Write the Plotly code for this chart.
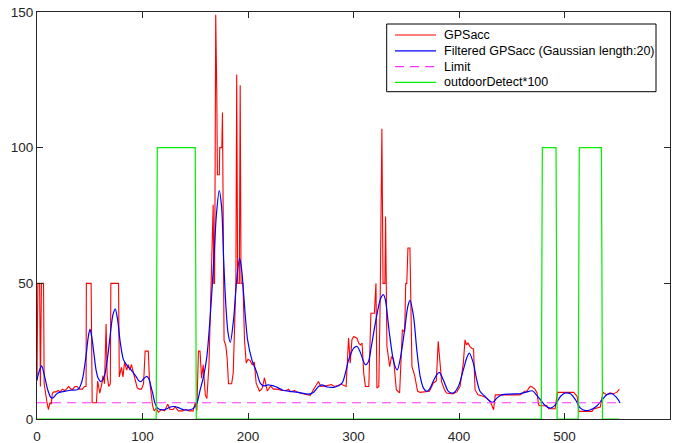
import plotly.graph_objects as go

# Raw GPS accuracy samples (vertices of the trace)
gps_x = [0, 0.8, 2.5, 3.2, 4.2, 6.2, 6.8, 8, 9.5, 10.8, 12.3, 13.5, 14.5, 16, 18, 20, 22, 24, 26, 28,
         30, 32, 34, 36, 38, 40, 43, 45, 46.5, 46.8, 51.3, 52.3, 56.3, 57.5, 59.5, 61.5, 62.5, 64, 65.5, 66.5,
         68, 69.5, 70, 77.3, 78, 80, 81.5, 83, 85, 86.5, 88, 89.5, 91, 93, 95, 97, 99, 101, 102.5, 105.5,
         106.5, 108, 109.5, 111, 113, 115, 118, 121, 124, 126, 129, 131, 134, 138, 141, 144, 148, 150, 151.5, 153,
         154.5, 156, 157.5, 159.5, 161, 163, 164.5, 166, 167, 167.6, 168.3, 168.7, 169.4, 170.4, 171, 172.8, 173.2, 175.2, 175.8, 176.4,
         177.3, 179, 180.3, 181.5, 184.5, 186, 187.5, 188.5, 189.3, 190.2, 191.8, 192.6, 193.4, 195.2, 196.7, 198.3, 200, 202, 204, 206,
         207.7, 210.8, 213, 214, 215.6, 217, 218.3, 221.4, 224, 228, 232, 236, 238.5, 240, 244, 248, 254, 259, 262, 266.8,
         269, 274, 279, 282, 288.4, 293, 295.3, 296.9, 298.5, 300.2, 303.3, 304.9, 306.5, 308.1, 309.7, 311.3, 314.5, 316.5, 319.8, 320.6,
         321.3, 322.2, 324, 325.3, 326.9, 328, 329.8, 330.4, 331.7, 334.3, 336, 338, 340.6, 343.7, 345, 346.3, 348.5, 349.5, 350.5, 351.6,
         353.5, 354.2, 355.4, 358, 360.7, 363, 366, 372, 375.6, 378.5, 380.3, 381.5, 383.5, 386, 388.2, 394, 398, 401, 404.1, 405.7,
         407, 408.5, 410.4, 412.5, 413.8, 415.2, 418, 422, 426.4, 429.6, 431, 432.8, 434.4, 458, 462.2, 464.2, 467.4, 469.4, 472, 474,
         475.3, 476, 483.4, 485, 491.1, 493.3, 508.7, 510.2, 512, 513.6, 526, 527.6, 530.8, 533.9, 536.5, 540, 543.3, 546, 549.6, 552]
gps_acc = [14, 50, 50, 12, 50, 50, 13, 9, 6, 3.5, 6, 5.5, 9.5, 10, 10, 10.5, 10, 11, 10.5, 11,
           12, 11, 11, 12, 12, 11, 11, 12, 12, 50, 50, 6, 6, 14, 9.5, 13, 16, 13, 35, 16,
           12, 13, 50, 50, 15.5, 19, 15.5, 21, 18, 20, 18, 20, 17.5, 14, 11.5, 11, 11, 13, 25, 25,
           15, 10, 5, 3, 4, 2.5, 3.5, 3, 5.5, 3.5, 3.5, 4.5, 3, 3, 3.5, 3, 3, 6, 3, 25,
           25, 15, 20, 9, 7.5, 20, 45, 65, 79, 50, 50, 79, 149, 120, 90, 90, 100, 100, 113, 80,
           29, 27, 22, 13, 13, 17, 35, 50, 127, 50, 50, 123, 50, 50, 29, 20.6, 22, 21.5, 20, 21,
           13.3, 10.3, 11, 12.2, 15.2, 12, 10.3, 12.2, 11, 11, 10.5, 10.5, 11, 10, 10.5, 9.7, 9.2, 8.7, 10.8, 13.8,
           12, 12.2, 12.7, 12, 12.8, 12, 29.8, 20.6, 29.2, 30.4, 29.8, 28, 27.3, 28, 16.9, 12, 12, 39, 39, 50,
           50, 11.4, 12, 44, 107, 50, 50, 74.6, 26.7, 19.3, 23, 22, 10.8, 9.6, 20, 32.9, 32, 50, 50, 63,
           63, 44, 19.3, 16, 10.3, 9.8, 10, 10.2, 13.2, 14, 28.6, 22, 13.8, 11, 9.6, 9.2, 10, 12, 20.6, 29.2,
           27.3, 28, 26.7, 26, 25.8, 10.8, 8.9, 8.5, 7.7, 6.5, 5, 3.4, 8.9, 8.9, 10.2, 10.2, 12, 11.8, 11, 9.6,
           5.7, 4.9, 4.9, 3.8, 3.8, 9.8, 9.8, 8.9, 8.3, 2.8, 2.8, 3.7, 4, 4.4, 9.8, 8.9, 9.6, 9.3, 9.8, 11]

# Gaussian-filtered GPS accuracy
filt_x = [0, 2, 4.4, 7, 10, 13, 15, 19.6, 26, 32, 38, 40, 43, 46.4, 48.5, 50.2, 52, 54.3, 56, 58,
          60.6, 63.8, 67, 70, 72, 74.2, 76.4, 79, 82, 86, 89, 93.8, 97, 99, 101.7, 104.2, 106.4, 108, 109.6, 111.8,
          114.3, 118, 122, 126, 130, 134, 139, 145, 148.4, 151.6, 154.7, 157.9, 161, 164.2, 167.4, 170, 172.7, 175, 177, 179,
          181, 183.2, 186.3, 189, 192, 194, 195.8, 199.6, 203.7, 208.5, 211.6, 215, 219, 222, 225.8, 233.7, 240, 248, 257.4, 262,
          266.9, 270.1, 274.9, 282.8, 289.1, 292.3, 295.4, 300.2, 303.4, 306.5, 311.3, 314, 316.9, 321, 325.8, 328.5, 330.5, 333.6, 338.4, 341.5,
          344.7, 348.5, 351.5, 353.6, 356.9, 360, 363.2, 366.3, 369.5, 372, 375.6, 378.8, 381.3, 385.1, 389.9, 394.6, 399.4, 404.1, 407.3, 409.8,
          413.6, 416.8, 419.9, 424.7, 429.4, 432, 435.8, 440.5, 448, 457.4, 463.7, 469.5, 473.3, 477.2, 481.9, 486.6, 491.4, 496.1, 500.9, 505.6,
          510.4, 515.1, 519.8, 524.6, 530.9, 535.6, 540.4, 545.1, 549.8, 552.7]
filt_acc = [14.5, 17.5, 19.6, 16, 11, 8, 7.7, 9.6, 10.2, 10.6, 10.8, 11.4, 14.5, 23, 30, 33.1, 30, 23, 18, 15,
            13.8, 15.7, 23, 33, 38.5, 40.5, 36.6, 28, 21.8, 19.4, 18.2, 15.7, 13.9, 13.9, 15.1, 15.7, 14.5, 12, 9.6, 5.9,
            4, 3.4, 3.6, 4.4, 4.6, 4.2, 3.4, 3.4, 4, 5.9, 10.8, 15.7, 23, 37.8, 57.4, 75, 84.2, 78, 58, 42,
            32, 28.2, 36.6, 50, 59.3, 55, 46.4, 29.2, 21.8, 16.9, 13.2, 12.2, 12.6, 12.4, 12, 10.5, 10.2, 9.8, 9.2, 9.8,
            12, 12.6, 11.8, 11.8, 13.2, 16.9, 21.8, 26.1, 26.7, 24.5, 20, 21, 26.7, 36, 44.5, 45.8, 43.3, 33, 20.6, 18.1,
            23, 33, 41.5, 43.7, 37.8, 25.5, 15.7, 11.4, 10.2, 11, 13.9, 16.3, 17.2, 14.5, 10.2, 9.6, 12, 18.1, 22.5, 24.3,
            20.6, 14.5, 10.2, 8.3, 6.5, 6.1, 7.7, 8.9, 9.2, 9.3, 9.9, 10.4, 8.9, 7.1, 4.9, 4, 5.3, 8.3, 9.6, 9.3,
            7.1, 4, 3.1, 3.4, 4.9, 7.1, 9, 9.3, 7.7, 5.9]

# Accuracy limit
limit_x = [0, 552]
limit_y = [6, 6]

# Outdoor detection flag (scaled by 100)
outdoor_x = [0, 113, 114, 150, 151, 478, 479, 492, 493, 513, 514, 535, 536, 552]
outdoor_y = [0, 0, 100, 100, 0, 0, 100, 100, 0, 0, 100, 100, 0, 0]

x_ticks = [0, 100, 200, 300, 400, 500, 600]
y_ticks = [0, 50, 100, 150]

FONT = "Liberation Sans, Arial, Helvetica, sans-serif"
W, H = 680, 443
M_L, M_R, M_T, M_B = 37, 10, 12, 24

series = [
    dict(x=gps_x, y=gps_acc, name="GPSacc",
         line=dict(color="#ff0000", width=1.1)),
    dict(x=filt_x, y=filt_acc, name="Filtered GPSacc (Gaussian length:20)",
         line=dict(color="#0000ff", width=1.2, shape="spline", smoothing=0.8)),
    dict(x=limit_x, y=limit_y, name="Limit",
         line=dict(color="#ff33ff", width=1.1, dash="9px,6px")),
    dict(x=outdoor_x, y=outdoor_y, name="outdoorDetect*100",
         line=dict(color="#00ee00", width=1.2)),
]

fig = go.Figure()
for s in series:
    fig.add_trace(go.Scatter(x=s["x"], y=s["y"], mode="lines", name=s["name"], line=s["line"]))

axis_common = dict(showgrid=False, zeroline=False, showline=True, linecolor="#262626", linewidth=1,
                   mirror="allticks", ticks="inside", ticklen=6, tickcolor="#262626", tickwidth=1,
                   automargin=False,
                   tickfont=dict(family=FONT, size=13.5, color="#262626"))

fig.update_xaxes(range=[0, 600], tickvals=x_ticks, ticklabelstandoff=5, **axis_common)
fig.update_yaxes(range=[0, 150], tickvals=y_ticks, **axis_common)


# Legend box drawn in the upper right of the axes (pixel layout -> paper coords)
def px_x(px):
    return (px - M_L) / (W - M_L - M_R)


def px_y(py):
    return (H - M_B - py) / (H - M_T - M_B)


box_l, box_t, box_r, box_b = 386.7, 24, 656, 91.7
row_y = [35, 50.8, 66.6, 82.4]
line_x0, line_x1, text_x = 395, 436, 441.7

shapes = [dict(type="rect", xref="paper", yref="paper",
               x0=px_x(box_l), x1=px_x(box_r), y0=px_y(box_b), y1=px_y(box_t),
               line=dict(color="#000000", width=1), fillcolor="white", layer="above")]
annotations = []
for s, ry in zip(series, row_y):
    ln = s["line"]
    shapes.append(dict(type="line", xref="paper", yref="paper",
                       x0=px_x(line_x0), x1=px_x(line_x1), y0=px_y(ry), y1=px_y(ry),
                       line=dict(color=ln["color"], width=ln["width"], dash=ln.get("dash", "solid")),
                       layer="above"))
    annotations.append(dict(xref="paper", yref="paper", x=px_x(text_x), y=px_y(ry),
                            xanchor="left", yanchor="middle", text=s["name"], showarrow=False,
                            font=dict(family=FONT, size=12.5, color="#000000")))

fig.update_layout(
    width=W, height=H,
    margin=dict(l=M_L, r=M_R, t=M_T, b=M_B),
    paper_bgcolor="white", plot_bgcolor="white",
    font=dict(family=FONT, color="#000000"),
    showlegend=False,
    shapes=shapes,
    annotations=annotations,
)

fig.write_html("out.html")
